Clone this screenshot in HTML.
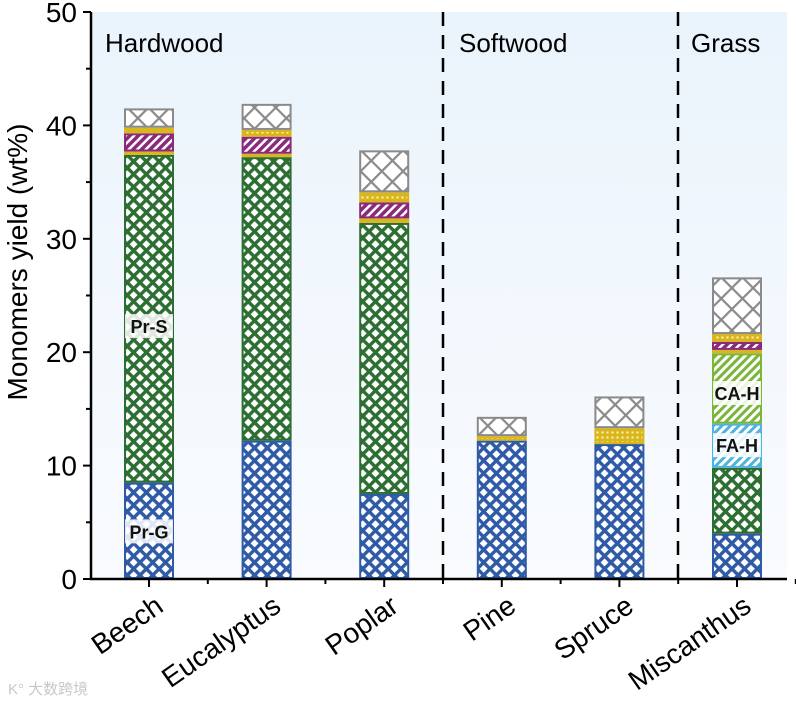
<!DOCTYPE html>
<html><head><meta charset="utf-8"><style>
html,body{margin:0;padding:0;background:#fff;}
svg{display:block;font-family:"Liberation Sans",Arial,sans-serif;}
</style></head><body>
<svg id="chart" width="796" height="704" viewBox="0 0 796 704">
<defs>
<linearGradient id="bg" x1="0" y1="0" x2="0" y2="1">
<stop offset="0" stop-color="#eaf4fc"/><stop offset="1" stop-color="#f9fbfe"/>
</linearGradient>
<pattern id="pBlue" width="9" height="9" patternUnits="userSpaceOnUse" patternTransform="rotate(45)">
<rect width="9" height="9" fill="#fff"/><rect width="9" height="3.4" fill="#2f5aa6"/><rect width="3.4" height="9" fill="#2f5aa6"/></pattern>
<pattern id="pGreen" width="9" height="9" patternUnits="userSpaceOnUse" patternTransform="rotate(45)">
<rect width="9" height="9" fill="#fff"/><rect width="9" height="3.4" fill="#2d6e33"/><rect width="3.4" height="9" fill="#2d6e33"/></pattern>
<pattern id="pGray" width="15" height="15" patternUnits="userSpaceOnUse" patternTransform="rotate(45)">
<rect width="15" height="15" fill="#fff"/><rect width="15" height="2.2" fill="#8a8a8a"/><rect width="2.2" height="15" fill="#8a8a8a"/></pattern>
<pattern id="pPurple" width="6" height="6" patternUnits="userSpaceOnUse" patternTransform="rotate(45)">
<rect width="6" height="6" fill="#fff"/><rect width="3.5" height="6" fill="#8a2a7c"/></pattern>
<pattern id="pCA" width="6" height="6" patternUnits="userSpaceOnUse" patternTransform="rotate(45)">
<rect width="6" height="6" fill="#fff"/><rect width="3" height="6" fill="#7bb53a"/></pattern>
<pattern id="pFA" width="6" height="6" patternUnits="userSpaceOnUse" patternTransform="rotate(45)">
<rect width="6" height="6" fill="#fff"/><rect width="3" height="6" fill="#4fb3dc"/></pattern>
<pattern id="pYel" width="5" height="5" patternUnits="userSpaceOnUse">
<rect width="5" height="5" fill="#d9b51e"/><rect x="1.5" y="1.5" width="2" height="2" fill="#fff7b0"/></pattern>
</defs>
<rect x="91" y="12" width="696" height="567" fill="url(#bg)"/>
<g id="bars"></g>
<g id="axes"></g>
</svg>
<script>
const categories = ["Beech","Eucalyptus","Poplar","Pine","Spruce","Miscanthus"];
const prG = [8.5,12.2,7.5,12.2,11.9,4.0];
const prS = [28.9,25.0,23.9,0,0,5.8];
const faH = [0,0,0,0,0,3.9];
const caH = [0,0,0,0,0,6.2];
const y1 = [0.3,0.3,0.4,0,0,0.3];
const purple = [1.6,1.5,1.4,0,0,0.7];
const y2 = [0.5,0.6,0.9,0.4,1.4,0.7];
const others = [1.7,2.3,3.7,1.7,2.8,5.0];
const yTicks = [0,10,20,30,40,50];
const groups = ["Hardwood","Softwood","Grass"];

const NS="http://www.w3.org/2000/svg";
const y0=579, pxPer=11.34, x0=149, step=117.6, bw=50;
const Y=v=>y0-v*pxPer, X=i=>x0+i*step;
function mk(tag,attrs,parent){const e=document.createElementNS(NS,tag);for(const k in attrs)e.setAttribute(k,attrs[k]);parent.appendChild(e);return e;}
const bars=document.getElementById('bars'), axes=document.getElementById('axes');
const series=[[prG,'url(#pBlue)','#2f5aa6','pr-g'],[prS,'url(#pGreen)','#2d6e33','pr-s'],[faH,'url(#pFA)','#4fb3dc','fa-h'],[caH,'url(#pCA)','#7bb53a','ca-h'],[y1,'#d9b51e','#d9b51e','minor-yellow'],[purple,'url(#pPurple)','#8a2a7c','purple'],[y2,'url(#pYel)','#d9b51e','yellow'],[others,'url(#pGray)','#8a8a8a','others']];
categories.forEach((c,i)=>{
  let acc=0;
  series.forEach(s=>{
    const v=s[0][i]; if(!v) return;
    const r=mk('rect',{x:X(i)-bw/2+1,y:Y(acc+v)+1,width:bw-2,height:Math.max(v*pxPer-2,0.5),fill:s[1],stroke:s[2],'stroke-width':2},bars);
    
    
    acc+=v;
  });
});
function label(txt,cx,cy,name){
  const bg=mk('rect',{x:cx-24,y:cy-12,width:48,height:24,fill:'#fff','fill-opacity':0.85},bars);
  
  
  const t=mk('text',{x:cx,y:cy+7,'text-anchor':'middle','font-size':18,'font-weight':'bold',fill:'#111'},bars);
  t.textContent=txt;
  
  
}
label('Pr-S',X(0),Y(22.3),'label-pr-s');
label('Pr-G',X(0),Y(4.2),'label-pr-g');
label('CA-H',X(5),Y(16.4),'label-ca-h');
label('FA-H',X(5),Y(11.8),'label-fa-h');
let a=mk('line',{x1:91,y1:12,x2:91,y2:y0+1,stroke:'#000','stroke-width':2.5},axes);


a=mk('line',{x1:90,y1:y0,x2:787,y2:y0,stroke:'#000','stroke-width':2.5},axes);


yTicks.forEach(v=>{
  const l=mk('line',{x1:83,y1:Y(v),x2:91,y2:Y(v),stroke:'#000','stroke-width':2},axes);
  
  
  const t=mk('text',{x:77,y:Y(v)+10,'text-anchor':'end','font-size':28,fill:'#000'},axes);
  t.textContent=v;
  
  
  if(v<50){const m=mk('line',{x1:86,y1:Y(v+5),x2:91,y2:Y(v+5),stroke:'#000','stroke-width':2},axes);
  
  }
});
categories.forEach((c,i)=>{
  const l=mk('line',{x1:X(i),y1:y0,x2:X(i),y2:y0+8,stroke:'#000','stroke-width':2},axes);
  
  
  const m=mk('line',{x1:X(i)+step/2,y1:y0,x2:X(i)+step/2,y2:y0+5,stroke:'#000','stroke-width':2},axes);
  
  
  const t=mk('text',{x:X(i)+16,y:y0+31,'text-anchor':'end','font-size':28,fill:'#000',transform:`rotate(-35 ${X(i)+16} ${y0+31})`},axes);
  t.textContent=c;
  
  
});
[443,678].forEach(x=>{
  const d=mk('line',{x1:x,y1:12,x2:x,y2:y0,stroke:'#000','stroke-width':2.5,'stroke-dasharray':'14,9'},axes);
  
  
});
[[groups[0],105],[groups[1],459],[groups[2],691]].forEach(g=>{
  const t=mk('text',{x:g[1],y:52,'font-size':26,fill:'#000'},axes);
  t.textContent=g[0];
  
  
});
const yt=mk('text',{x:0,y:0,'text-anchor':'middle','font-size':28,fill:'#000',transform:'translate(27 262) rotate(-90)'},axes);
yt.textContent='Monomers yield (wt%)';


const wm=mk('text',{x:8,y:694,'font-size':15,fill:'#c8c8c8'},axes);
wm.textContent='K° 大数跨境';


</script>
</body></html>
